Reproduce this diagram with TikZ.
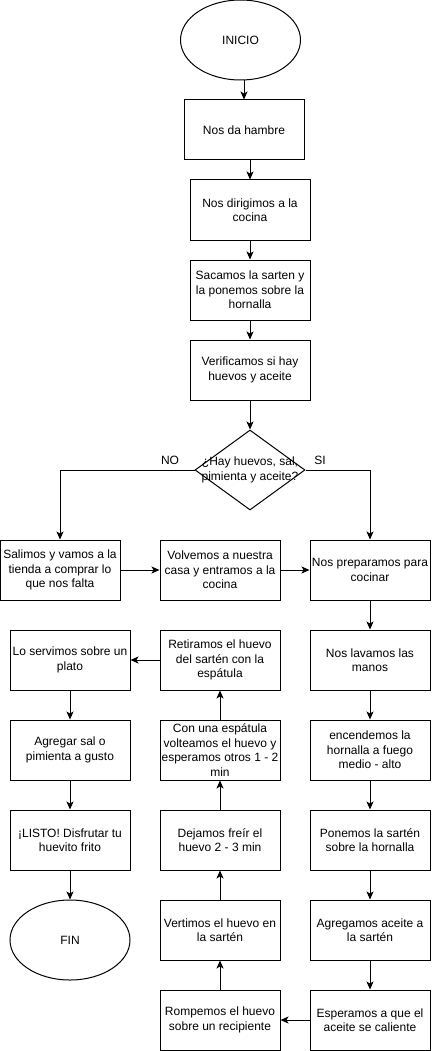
\documentclass[tikz,border=0pt]{standalone}
\usepackage{fontspec}
\setmainfont{Liberation Sans}
\usetikzlibrary{positioning,arrows.meta,shapes.geometric}

\begin{document}
\begin{tikzpicture}[
    x=1pt, y=-1pt,
    >={Classical TikZ Rightarrow[]},
    line width=1pt,
    font=\fontsize{12}{14.4}\selectfont,
    arr/.style={-{Stealth[length=8pt,width=7pt,inset=2pt]}},
    proc/.style={draw, minimum width=120pt, minimum height=60pt, inner sep=1pt, align=center},
    term/.style={draw, ellipse, minimum width=120pt, minimum height=80pt, inner sep=0pt, align=center},
    decision/.style={draw, diamond, minimum width=110pt, minimum height=80pt, inner sep=0pt},
    lbl/.style={inner sep=0pt, align=center},
  ]
    \useasboundingbox (0,0) rectangle (431,1051);

    % main column
    \node[term] (inicio) at (240.5,40) {INICIO};
    \node[proc] (hambre) at (244,130) {Nos da hambre};
    \node[proc] (cocina) at (250,210) {Nos dirigimos a la\\cocina};
    \node[proc] (sarten) at (250,290) {Sacamos la sarten y\\la ponemos sobre la\\hornalla};
    \node[proc] (verif)  at (250,370) {Verificamos si hay\\huevos y aceite};
    \node[decision] (hay) at (250,470) {};
    \node[lbl] (haytxt) at (hay.center) {¿Hay huevos, sal,\\pimienta y aceite?};
    \node[lbl] (no) at (170,460) {NO};
    \node[lbl] (si) at (320,460) {SI};

    % row after decision
    \node[proc] (salimos) at (60,570)  {Salimos y vamos a la\\tienda a comprar lo\\que nos falta};
    \node[proc] (volvemos) at (220,570) {Volvemos a nuestra\\casa y entramos a la\\cocina};
    \node[proc] (prep) at (370,570) {Nos preparamos para\\cocinar};

    % right column
    \node[proc] (lavamos) at (370,660)  {Nos lavamos las\\manos};
    \node[proc] (fuego)   at (370,750)  {encendemos la\\hornalla a fuego\\medio - alto};
    \node[proc] (ponemos) at (370,840)  {Ponemos la sartén\\sobre la hornalla};
    \node[proc] (aceite)  at (370,930)  {Agregamos aceite a\\la sartén};
    \node[proc] (espera)  at (370,1020) {Esperamos a que el\\aceite se caliente};

    % middle column
    \node[proc] (rompemos) at (220,1020) {Rompemos el huevo\\sobre un recipiente};
    \node[proc] (vertimos) at (220,930)  {Vertimos el huevo en\\la sartén};
    \node[proc] (freir)    at (220,840)  {Dejamos freír el\\huevo 2 - 3 min};
    \node[proc] (voltea)   at (220,750)  {Con una espátula\\volteamos el huevo y\\esperamos otros 1 - 2\\min};
    \node[proc] (retira)   at (220,660)  {Retiramos el huevo\\del sartén con la\\espátula};

    % left column
    \node[proc] (plato) at (70,660) {Lo servimos sobre un\\plato};
    \node[proc] (sal)   at (70,750) {Agregar sal o\\pimienta a gusto};
    \node[proc] (listo) at (70,840) {¡LISTO! Disfrutar tu\\huevito frito};
    \node[term] (fin)   at (70,940) {FIN};

    \draw[arr] (hambre.north |- inicio.south) -- (hambre.north);
    \draw[arr] (cocina.north |- hambre.south) -- (cocina.north);
    \foreach \a/\b in {cocina/sarten, sarten/verif, verif/hay,
                       salimos/volvemos, volvemos/prep,
                       prep/lavamos, lavamos/fuego, fuego/ponemos, ponemos/aceite, aceite/espera,
                       espera/rompemos, rompemos/vertimos, vertimos/freir, freir/voltea, voltea/retira,
                       retira/plato, plato/sal, sal/listo, listo/fin}
      \draw[arr] (\a) -- (\b);
    \draw[arr] (hay.west) -| (salimos.north);
    \draw[arr] (hay.east) -| (prep.north);
  \end{tikzpicture}
\end{document}
